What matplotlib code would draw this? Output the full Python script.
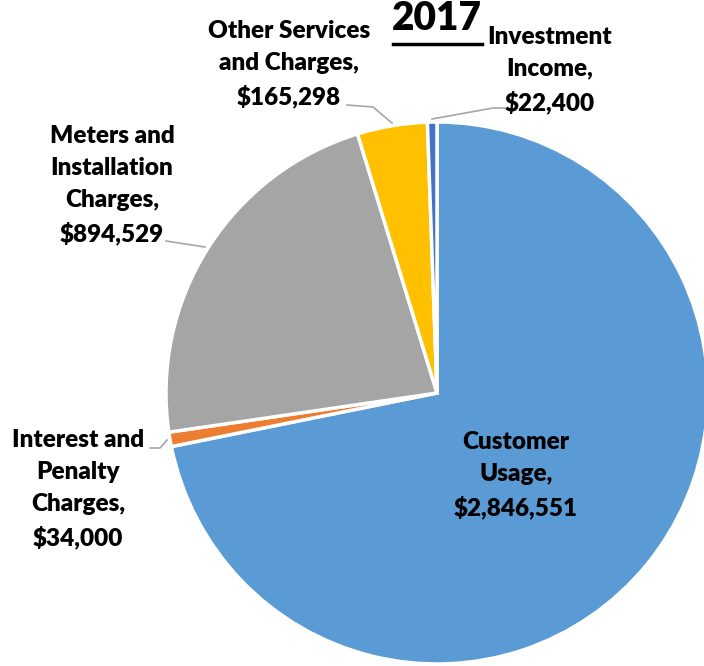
import matplotlib.pyplot as plt

labels = ["Customer\nUsage,", "Interest and\nPenalty\nCharges,", "Meters and\nInstallation\nCharges,",
          "Other Services\nand Charges,", "Investment\nIncome,"]
values = [2846551, 34000, 894529, 165298, 22400]
colors = ["#5B9BD5", "#ED7D31", "#A5A5A5", "#FFC000", "#4472C4"]

W, H = 704, 666
fig = plt.figure(figsize=(W / 100, H / 100), dpi=100)
ax = fig.add_axes([0, 0, 1, 1])

# pie in pixel coords (y flipped, so clockwise on screen == counterclock in data)
ax.pie(values, colors=colors, startangle=-90, counterclock=True,
       center=(437, 393), radius=271, frame=True,
       wedgeprops=dict(edgecolor="white", linewidth=2.5))
ax.set_xlim(0, W)
ax.set_ylim(H, 0)
ax.axis("off")

font = dict(family="Lato", weight="heavy", fontsize=17.5, ha="center", va="center", linespacing=1.55)

def money(v):
    return f"${v:,}"

pos = [(516, 475), (78, 489), (112, 185), (289, 64), (550, 70)]
for lab, v, (x, y) in zip(labels, values, pos):
    ax.text(x, y, lab + "\n" + money(v), **font)

ax.text(437, 19, "2017", family="Lato", weight="heavy", fontsize=28, ha="center", va="center")
ax.plot([393, 482], [44, 44], color="black", lw=2.5)

# leader lines
lc = "#A6A6A6"
ax.plot([347, 373, 392], [105, 107, 123], color=lc, lw=1.2)
ax.plot([432, 493, 505], [119, 108, 108], color=lc, lw=1.2)
ax.plot([166, 205], [241, 247], color=lc, lw=1.2)
ax.plot([150, 160, 167], [448, 448, 440], color=lc, lw=1.2)

fig.savefig("out.png", dpi=100)
